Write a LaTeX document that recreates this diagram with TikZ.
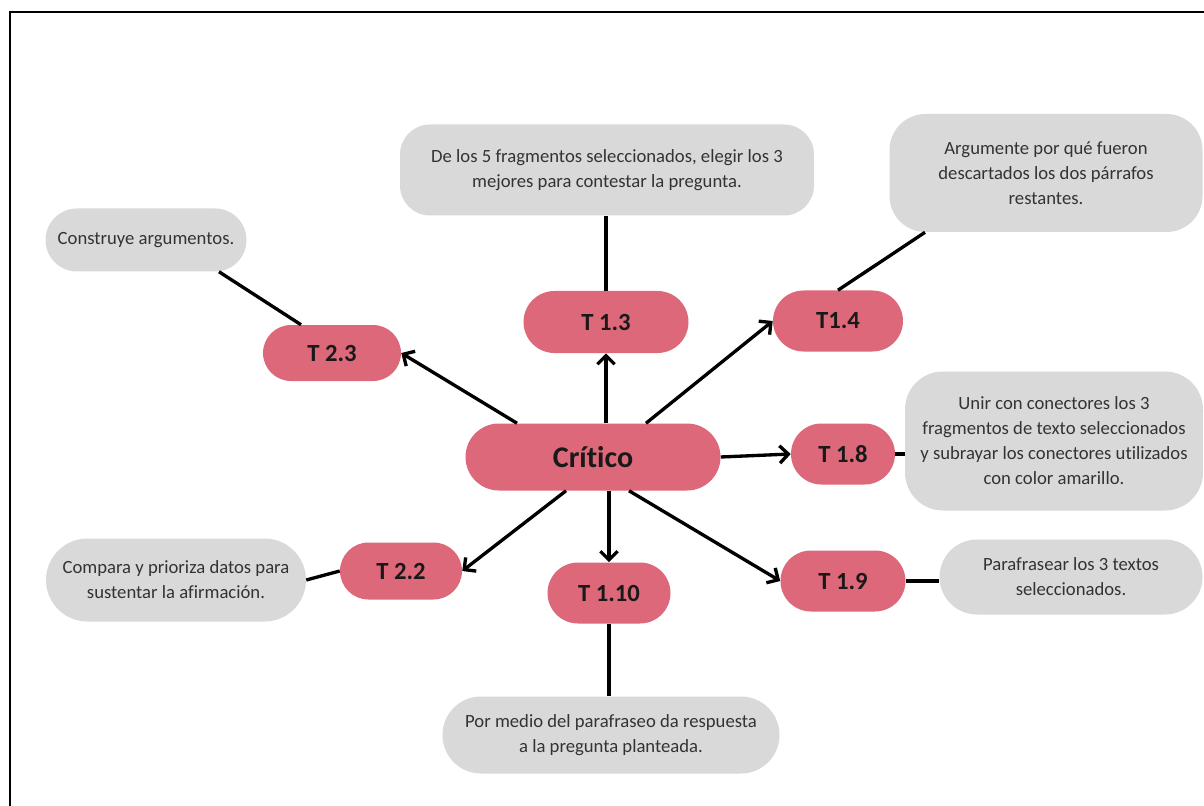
\documentclass[tikz,border=0pt]{standalone}
\usepackage{fontspec}
\setmainfont{Carlito}[Ligatures={NoCommon}]
\usetikzlibrary{arrows.meta,shapes.misc}
\definecolor{pinkc}{HTML}{DD687A}
\definecolor{grayc}{HTML}{D9D9D9}
\definecolor{txtg}{HTML}{333333}
\tikzset{
  tnode/.style 2 args={rounded rectangle, fill=pinkc, draw=none, inner sep=0pt,
    minimum width=#1*0.75pt, minimum height=#2*0.75pt,
    font=\fontsize{18.5}{21}\selectfont\bfseries, text=black!90},
  gpill/.style 2 args={rounded rectangle, fill=grayc, draw=none, inner sep=0pt,
    minimum width=#1*0.75pt, minimum height=#2*0.75pt, align=center,
    font=\fontsize{14}{18.75}\selectfont, text=txtg},
  gbox/.style n args={3}{rectangle, rounded corners=#3*0.75pt, fill=grayc, draw=none, inner sep=0pt,
    minimum width=#1*0.75pt, minimum height=#2*0.75pt, align=center,
    font=\fontsize{14}{18.75}\selectfont, text=txtg},
  arr/.style={line width=2.5pt, -{Straight Barb[length=6.5pt,width=13pt,line width=2.5pt]}},
  conn/.style={line width=2.5pt},
}
\begin{document}
\begin{tikzpicture}[x=0.75pt,y=-0.75pt]
\useasboundingbox (0,0) rectangle (1204,806);
\fill[white] (0,0) rectangle (1204,806);
% frame
\coordinate (fbl) at (10,806);
\coordinate (ftl) at (10,12);
\coordinate (ftr) at (1204,12);
\draw[line width=2pt] (fbl) -- (ftl) -- (ftr);

% gray boxes
\node[gpill={201}{63}] (g1) at (146,240) {Construye argumentos.};
\node[gbox={414}{91}{30}] (g2) at (607,170) {De los 5 fragmentos seleccionados, elegir los 3\\mejores para contestar la pregunta.};
\node[gbox={313}{118}{36}] (g3) at (1046,173) {Argumente por qué fueron\\descartados los dos párrafos\\restantes.};
\node[gbox={298}{139}{38}] (g4) at (1054,441) {Unir con conectores los 3\\fragmentos de texto seleccionados\\y subrayar los conectores utilizados\\con color amarillo.};
\node[gpill={260}{83}] (g5) at (176,580) {Compara y prioriza datos para\\sustentar la afirmación.};
\node[gpill={263}{75}] (g6) at (1071,577) {Parafrasear los 3 textos\\seleccionados.};
\node[gpill={337}{77}] (g7) at (611,735) {Por medio del parafraseo da respuesta\\a la pregunta planteada.};

% pink nodes
\node[tnode={255}{67}, font=\fontsize{22.5}{26}\selectfont\bfseries] (crit) at (593,457) {Crítico};
\node[tnode={165}{62}] (t13) at (606,322) {T 1.3};
\node[tnode={130}{61}] (t14) at (838,321) {T1.4};
\node[tnode={138}{56}] (t23) at (332,353) {T 2.3};
\node[tnode={104}{61}] (t18) at (843,454) {T 1.8};
\node[tnode={122}{57}] (t22) at (401,571) {T 2.2};
\node[tnode={123}{61}] (t110) at (609,593) {T 1.10};
\node[tnode={125}{61}] (t19) at (843,581) {T 1.9};

% arrows from Crítico
\draw[arr] ([shift={(-76,0)}]crit.north) -- (t23.east);
\draw[arr] (t13.south |- crit.north) -- (t13.south);
\draw[arr] ([shift={(53,0)}]crit.north) -- (t14.west);
\draw[arr] (crit.east) -- (t18.west);
\draw[arr] ([shift={(-27,0)}]crit.south) -- (t22.east);
\draw[arr] (t110.north |- crit.south) -- (t110.north);
\draw[arr] ([shift={(36,0)}]crit.south) -- (t19.west);

% plain connectors
\draw[conn] ([shift={(-31,0)}]t23.north) -- ([shift={(73,0)}]g1.south);
\draw[conn] (t13.north) -- (t13.north |- g2.south);
\draw[conn] (t14.north) -- ([shift={(-121,0)}]g3.south);
\draw[conn] (t18.east) -- (t18.east -| g4.west);
\draw[conn] (t22.west) -- (g5.east);
\draw[conn] (t19.east) -- (t19.east -| g6.west);
\draw[conn] (t110.south) -- (t110.south |- g7.north);
\end{tikzpicture}
\end{document}
